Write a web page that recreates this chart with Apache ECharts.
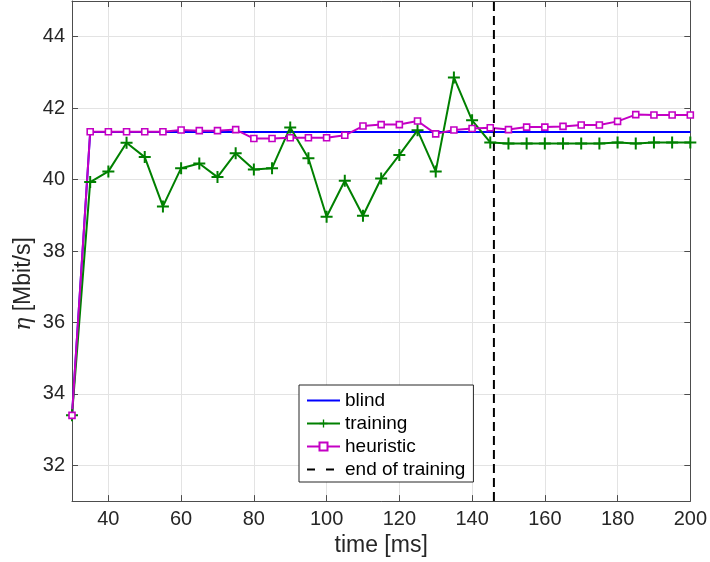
<!DOCTYPE html>
<html>
<head>
<meta charset="utf-8">
<script src="https://cdn.jsdelivr.net/npm/echarts@6/dist/echarts.min.js"></script>
<style>
html, body { margin: 0; padding: 0; background: #fff; }
#main { width: 710px; height: 562px; }
</style>
</head>
<body>
<div id="main"></div>
<script>
// data
var times = [30, 35, 40, 45, 50, 55, 60, 65, 70, 75, 80, 85, 90, 95, 100, 105, 110, 115,
             120, 125, 130, 135, 140, 145, 150, 155, 160, 165, 170, 175, 180, 185, 190, 195, 200];
var blind = [33.4, 41.33, 41.33, 41.33, 41.33, 41.33, 41.33, 41.33, 41.33, 41.33, 41.33, 41.33,
             41.33, 41.33, 41.33, 41.33, 41.33, 41.33, 41.33, 41.33, 41.33, 41.33, 41.33, 41.33,
             41.33, 41.33, 41.33, 41.33, 41.33, 41.33, 41.33, 41.33, 41.33, 41.33, 41.33];
var training = [33.4, 39.93, 40.23, 41.03, 40.63, 39.25, 40.32, 40.45, 40.07, 40.74, 40.28, 40.32,
                41.46, 40.60, 38.96, 39.97, 38.99, 40.03, 40.69, 41.38, 40.23, 42.86, 41.66, 41.04,
                41.01, 41.01, 41.01, 41.01, 41.01, 41.01, 41.04, 41.01, 41.04, 41.04, 41.04];
var heuristic = [33.4, 41.34, 41.34, 41.34, 41.34, 41.34, 41.39, 41.37, 41.37, 41.40, 41.15, 41.15,
                 41.17, 41.17, 41.17, 41.24, 41.50, 41.54, 41.54, 41.64, 41.28, 41.39, 41.43, 41.45,
                 41.40, 41.47, 41.47, 41.49, 41.53, 41.53, 41.63, 41.82, 41.81, 41.81, 41.81];
var endOfTraining = 146;
var xRange = [30, 200];
var yRange = [31, 45];

var textColor = '#262626';
var axisColor = '#4d4d4d';
var gridColor = '#e3e3e3';
var fontFam = '"Liberation Sans", Arial, Helvetica, sans-serif';
var plusPath = 'path://M5,0H7V5H12V7H7V12H5V7H0V5H5Z';

var pairs = function(arr) {
	return times.map(function(t, i) { return [t, arr[i]]; });
};

var myChart = echarts.init(document.getElementById('main'));

var xBase = function(pos) {
	return {
		type: 'value', position: pos, min: xRange[0], max: xRange[1], splitNumber: 8,
		axisLine: { show: true, onZero: false, lineStyle: { color: axisColor, width: 1 } },
		axisTick: { show: true, inside: true, length: 6, lineStyle: { color: axisColor } },
		axisLabel: { show: pos === 'bottom', showMinLabel: false, fontSize: 20, color: textColor,
			fontFamily: fontFam, margin: 8 },
		splitLine: { show: pos === 'bottom', lineStyle: { color: gridColor, width: 1 } }
	};
};
var yBase = function(pos) {
	return {
		type: 'value', position: pos, min: yRange[0], max: yRange[1], splitNumber: 7,
		axisLine: { show: true, onZero: false, lineStyle: { color: axisColor, width: 1 } },
		axisTick: { show: true, inside: true, length: 6, lineStyle: { color: axisColor } },
		axisLabel: { show: pos === 'left', showMinLabel: false, showMaxLabel: false, fontSize: 20,
			color: textColor, fontFamily: fontFam, margin: 7 },
		splitLine: { show: pos === 'left', lineStyle: { color: gridColor, width: 1 } }
	};
};

var xMain = xBase('bottom');
xMain.name = 'time [ms]';
xMain.nameLocation = 'middle';
xMain.nameGap = 28;
xMain.nameTextStyle = { fontSize: 23, color: textColor, fontFamily: fontFam };

var option = {
	animation: false,
	backgroundColor: '#fff',
	grid: { left: 72, right: 17, top: 1, bottom: 56, containLabel: false },
	xAxis: [xMain, xBase('top')],
	yAxis: [yBase('left'), yBase('right')],
	legend: {
		orient: 'vertical', left: 299, top: 385,
		padding: [6, 8, 3, 7],
		itemWidth: 33, itemHeight: 10, itemGap: 4,
		backgroundColor: '#fff', borderColor: textColor, borderWidth: 1, borderRadius: 0,
		selectedMode: false,
		textStyle: { fontSize: 19, color: '#000', fontFamily: fontFam },
		data: [
			{ name: 'blind', itemStyle: { opacity: 0 }, lineStyle: { width: 2 } },
			{ name: 'training', lineStyle: { width: 2 } },
			{ name: 'heuristic', lineStyle: { width: 2 } },
			{ name: 'end of training', itemStyle: { opacity: 0 }, lineStyle: { width: 2, type: [8, 11] } }
		]
	},
	graphic: [{
		type: 'text', x: 24, y: 284, rotation: Math.PI / 2,
		style: {
			text: '{i|η} [Mbit/s]',
			fontSize: 23, fontFamily: fontFam, fill: textColor,
			align: 'center', verticalAlign: 'middle',
			rich: { i: { fontFamily: '"DejaVu Serif", serif', fontStyle: 'italic', fontSize: 22, fill: textColor } }
		}
	}],
	series: [{
		name: 'blind', type: 'line', data: pairs(blind),
		symbol: 'none', lineStyle: { color: '#0000ff', width: 2 }, itemStyle: { color: '#0000ff' }
	}, {
		name: 'training', type: 'line', data: pairs(training),
		symbol: plusPath, symbolSize: 12, showAllSymbol: true,
		lineStyle: { color: '#008000', width: 2 }, itemStyle: { color: '#008000' }
	}, {
		name: 'heuristic', type: 'line', data: pairs(heuristic),
		symbol: 'rect', symbolSize: 6, showAllSymbol: true,
		lineStyle: { color: '#c400c4', width: 2 },
		itemStyle: { color: '#fff', borderColor: '#c400c4', borderWidth: 1.6 }
	}, {
		name: 'end of training', type: 'line',
		data: [[endOfTraining, yRange[0]], [endOfTraining, yRange[1]]],
		symbol: 'none', lineStyle: { color: '#000', width: 2, type: [9, 5] }, itemStyle: { color: '#000' }
	}]
};

myChart.setOption(option, true);
</script>
</body>
</html>
